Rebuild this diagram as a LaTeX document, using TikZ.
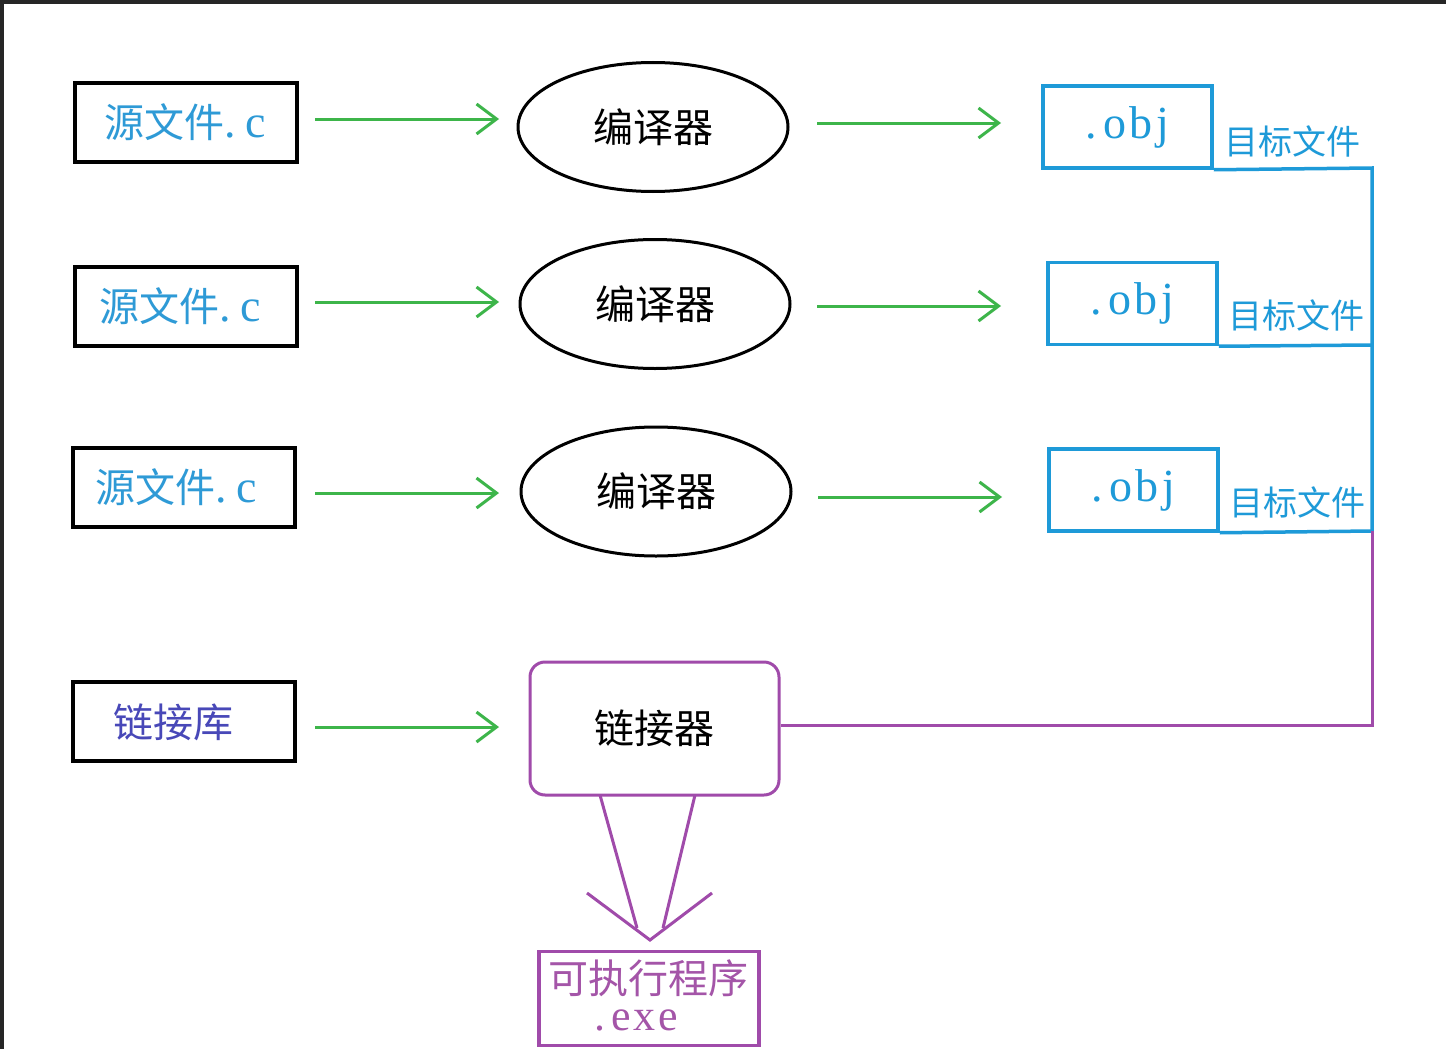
\documentclass[tikz,border=0pt]{standalone}
\usepackage{fontspec}
\newfontfamily\cjk{Noto Sans CJK SC}
\newfontfamily\lat{Liberation Serif}
\usetikzlibrary{shapes.geometric,arrows.meta}
\definecolor{srcblue}{HTML}{2E9AD6}
\definecolor{objblue}{HTML}{1E9AD8}
\definecolor{arrgreen}{HTML}{3DB54A}
\definecolor{lnkpurple}{HTML}{A04BAA}
\definecolor{libblue}{HTML}{4848B8}
\definecolor{exepurple}{HTML}{A455A8}
\tikzset{
  srcbox/.style={draw=black, line width=4pt, minimum width=222pt, minimum height=79pt, inner sep=0pt},
  compel/.style={ellipse, draw=black, line width=3pt, minimum width=270pt, minimum height=129pt, inner sep=0pt},
  objbox/.style={draw=objblue, line width=3.5pt, minimum width=169pt, minimum height=82pt, inner sep=0pt},
  greenarr/.style={draw=arrgreen, line width=3pt, -{Straight Barb[length=20pt,width=30pt,line width=3pt]}},
  lbltext/.style={font=\cjk\fontsize{34}{38}\selectfont, text=objblue, inner sep=0pt},
}
\newcommand{\objtxt}{{\lat\fontsize{46}{50}\selectfont\addfontfeature{LetterSpace=8}.\kern6pt obj}}
\begin{document}
\begin{tikzpicture}[x=1pt,y=-1pt]
\useasboundingbox (0,0) rectangle (1446,1049);
\fill[white] (0,0) rectangle (1446,1049);
% frame
\draw[line width=4pt, black!85] (2,1049) -- (2,2) -- (1446,2);

% source boxes
\node[srcbox] (s1) at (186,122.5) {};
\node[srcbox] (s2) at (186,306.5) {};
\node[srcbox] (s3) at (184,487.5) {};
\node[text=srcblue, inner sep=0pt] (t1) at (185,122) {\fontsize{40}{44}\selectfont\cjk 源文件\lat\fontsize{46}{50}\selectfont.\kern10pt c};
\node[text=srcblue, inner sep=0pt] (t2) at (180,306) {\fontsize{40}{44}\selectfont\cjk 源文件\lat\fontsize{46}{50}\selectfont.\kern10pt c};
\node[text=srcblue, inner sep=0pt] (t3) at (176,487) {\fontsize{40}{44}\selectfont\cjk 源文件\lat\fontsize{46}{50}\selectfont.\kern10pt c};

% compilers
\node[compel] (c1) at (653,127) {\cjk\fontsize{40}{44}\selectfont 编译器};
\node[compel] (c2) at (655,304) {\cjk\fontsize{40}{44}\selectfont 编译器};
\node[compel] (c3) at (656,491.5) {\cjk\fontsize{40}{44}\selectfont 编译器};

% object boxes
\node[objbox, text=objblue] (o1) at (1127.5,127) {\objtxt};
\node[objbox, text=objblue] (o2) at (1132.5,303.5) {\objtxt};
\node[objbox, text=objblue] (o3) at (1133.5,490) {\objtxt};
\node[lbltext] (l1) at (1292,141) {目标文件};
\node[lbltext] (l2) at (1296,315) {目标文件};
\node[lbltext] (l3) at (1297,502) {目标文件};

% green arrows
\coordinate (f1a) at (315,119); \coordinate (f1b) at (499,119);
\coordinate (f2a) at (315,302); \coordinate (f2b) at (499,302);
\coordinate (f3a) at (315,493); \coordinate (f3b) at (499,493);
\draw[greenarr] (f1a) -- (f1b);
\draw[greenarr] (f2a) -- (f2b);
\draw[greenarr] (f3a) -- (f3b);
\coordinate (g1a) at (817,123); \coordinate (g1b) at (1001,123);
\coordinate (g2a) at (817,306); \coordinate (g2b) at (1001,306);
\coordinate (g3a) at (818,497); \coordinate (g3b) at (1002,497);
\draw[greenarr] (g1a) -- (g1b);
\draw[greenarr] (g2a) -- (g2b);
\draw[greenarr] (g3a) -- (g3b);

% library and linker
\node[srcbox] (lib) at (183.5,721.5) {};
\node[text=libblue, inner sep=0pt] (libt) at (173,722) {\cjk\fontsize{40}{44}\selectfont 链接库};
\node[draw=lnkpurple, line width=3pt, rounded corners=15pt, minimum width=249pt, minimum height=133pt, inner sep=0pt] (lnk) at (654.5,728.5) {\cjk\fontsize{40}{44}\selectfont 链接器};
\coordinate (la) at (315,727); \coordinate (lb) at (499,727);
\draw[greenarr] (la) -- (lb);

% blue collection lines
\coordinate (b1) at (1372,168);
\coordinate (b2) at (1372,345);
\coordinate (b3) at (1372,531);
\draw[objblue, line width=3.5pt] (o1.south east) -- (b1) -- (b3);
\draw[objblue, line width=3.5pt] (o2.south east) -- (b2);
\draw[objblue, line width=3.5pt] (o3.south east) -- (b3);
\coordinate (pc) at (1372,725);
\draw[lnkpurple, line width=3pt] (b3) -- (pc) -- (lnk.east |- pc);

% executable
\node[draw=lnkpurple, line width=3.5pt, minimum width=220pt, minimum height=94pt, inner sep=0pt] (exe) at (649,998.5) {};
\node[text=exepurple, inner sep=0pt] (exet1) at (648,978) {\cjk\fontsize{40}{44}\selectfont 可执行程序};
\node[text=exepurple, inner sep=0pt] (exet2) at (636,1020) {\lat\fontsize{44}{48}\selectfont\addfontfeature{LetterSpace=6}.\kern6pt exe};

% big open arrow from linker to exe
\coordinate (tip) at (650,940);
\coordinate (ls) at (600,795); \coordinate (le) at (637,928);
\coordinate (rs) at (695,795); \coordinate (re) at (663,928);
\coordinate (lw) at (587,893); \coordinate (rw) at (712,893);
\draw[lnkpurple, line width=3pt] (ls) -- (le);
\draw[lnkpurple, line width=3pt] (rs) -- (re);
\draw[lnkpurple, line width=3pt, line join=miter] (lw) -- (tip) -- (rw);
\end{tikzpicture}
\end{document}
